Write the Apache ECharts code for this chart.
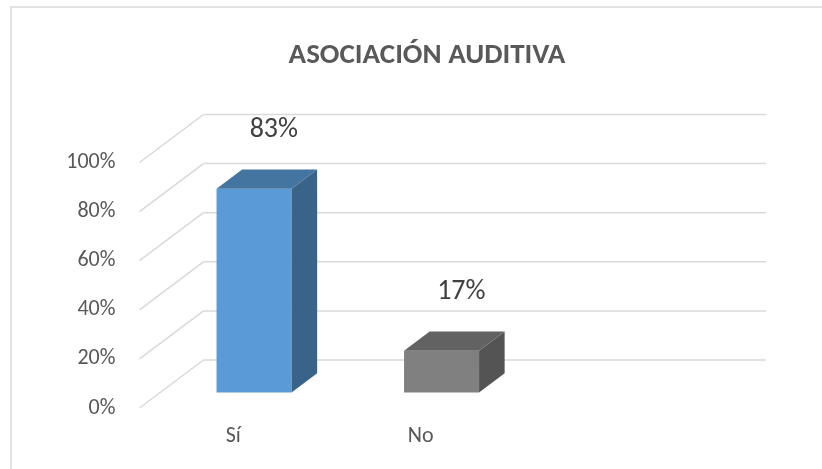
<!DOCTYPE html>
<html>
<head>
<meta charset="utf-8">
<script src="https://cdn.jsdelivr.net/npm/echarts@6/dist/echarts.min.js"></script>
<style>html,body{margin:0;padding:0;background:#fff}#chart{width:822px;height:469px}</style>
</head>
<body>
<div id="chart"></div>
<script>
// ---- data ----
const categories = ['Sí', 'No', ''];
const values = [83, 17];
const valueLabels = ['83%', '17%'];
const yTicks = [0, 20, 40, 60, 80, 100];
const titleText = 'ASOCIACIÓN AUDITIVA';

// ---- style ----
const FONT = 'Carlito, Calibri, Lato, sans-serif';
const DX = 64, DY = -48;          // depth projection of the floor
const F1 = 0.325, F2 = 0.725;     // bar front/back depth fraction
const BAR_FRAC = 0.4;
const faceColors = [
  { front: '#5B9BD5', top: '#4474A0', side: '#3A6389' },
  { front: '#808080', top: '#626262', side: '#545454' }
];

const chart = echarts.init(document.getElementById('chart'));

function gridRender(params, api) {
  const cs = params.coordSys;
  const v = api.value(1);
  const y = api.coord([0, v])[1];
  const x0 = cs.x;
  const x1 = cs.x + cs.width;
  const style = { stroke: '#D9D9D9', lineWidth: 1.5 };
  return {
    type: 'group',
    children: [
      { type: 'line', shape: { x1: x0, y1: y, x2: x0 + DX, y2: y + DY }, style: style },
      { type: 'line', shape: { x1: x0 + DX, y1: y + DY, x2: x1 + DX, y2: y + DY }, style: style }
    ]
  };
}

function barRender(params, api) {
  const idx = api.value(0);
  const val = api.value(1);
  const base = api.coord([idx, 0]);
  const top = api.coord([idx, val]);
  const bw = api.size([1, 0])[0] * BAR_FRAC;
  const x0 = base[0] - bw / 2 + F1 * DX;
  const yb = base[1] + F1 * DY;
  const yt = top[1] + F1 * DY;
  const ddx = (F2 - F1) * DX, ddy = (F2 - F1) * DY;
  const c = faceColors[params.dataIndex % faceColors.length];
  return {
    type: 'group',
    children: [
      { type: 'rect', shape: { x: x0, y: yt, width: bw, height: yb - yt }, style: { fill: c.front } },
      { type: 'polygon', shape: { points: [[x0 + bw, yt], [x0 + bw + ddx, yt + ddy], [x0 + bw + ddx, yb + ddy], [x0 + bw, yb]] }, style: { fill: c.side } },
      { type: 'polygon', shape: { points: [[x0, yt], [x0 + ddx, yt + ddy], [x0 + bw + ddx, yt + ddy], [x0 + bw, yt]] }, style: { fill: c.top } },
      { type: 'text', x: x0 + bw / 2 + ddx / 2 + 7, y: yt + ddy - 39,
        style: { text: valueLabels[params.dataIndex], font: '28px ' + FONT, fill: '#404040', align: 'center', verticalAlign: 'middle' } }
    ]
  };
}

chart.setOption({
  animation: false,
  backgroundColor: '#ffffff',
  title: {
    text: titleText,
    left: 427,
    top: 41,
    padding: 0,
    textAlign: 'center',
    textStyle: { fontFamily: FONT, fontSize: 29, fontWeight: 'bold', color: '#595959' }
  },
  graphic: [
    { type: 'polyline', shape: { points: [[11, 480], [11, 7], [830, 7]] }, style: { stroke: '#D9D9D9', lineWidth: 1.5, fill: null }, silent: true }
  ],
  grid: { left: 139.5, right: 120, top: 162.5, bottom: 61, containLabel: false },
  xAxis: {
    type: 'category',
    data: categories,
    axisLine: { show: false },
    axisTick: { show: false },
    splitLine: { show: false },
    axisLabel: { color: '#595959', fontFamily: FONT, fontSize: 22, margin: 17 }
  },
  yAxis: {
    type: 'value',
    min: 0, max: 100, interval: 20,
    axisLine: { show: false },
    axisTick: { show: false },
    splitLine: { show: false },
    axisLabel: { color: '#595959', fontFamily: FONT, fontSize: 22, margin: 24, formatter: '{value}%' }
  },
  series: [
    { type: 'custom', renderItem: gridRender, data: yTicks.map(v => [0, v]), clip: false, silent: true, z: 1 },
    { type: 'custom', renderItem: barRender, data: values.map((v, i) => [i, v]), clip: false, z: 2 }
  ]
});
</script>
</body>
</html>
